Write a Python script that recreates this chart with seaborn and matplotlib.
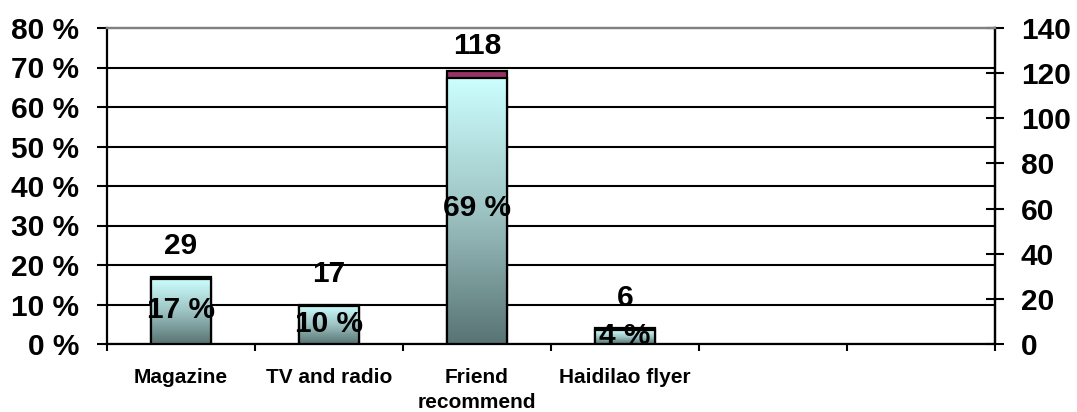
import numpy as np
import pandas as pd
import matplotlib
matplotlib.use("Agg")
import matplotlib.pyplot as plt
from matplotlib.colors import LinearSegmentedColormap
import seaborn as sns

# Survey: how customers heard about the restaurant
categories = ["Magazine", "TV and radio", "Friend\nrecommend", "Haidilao flyer"]
percent = [17, 10, 69, 4]          # share of respondents (left axis)
counts = [29, 17, 118, 6]          # number of respondents (right axis)
n_slots = 6                         # category slots on the x axis
pct_ticks = list(range(0, 81, 10))
count_ticks = list(range(0, 141, 20))

sns.set_theme(style="white")
plt.rcParams["font.family"] = ["Liberation Sans", "DejaVu Sans"]
plt.rcParams["font.weight"] = "bold"
plt.rcParams["text.color"] = "black"
plt.rcParams["xtick.color"] = "black"
plt.rcParams["ytick.color"] = "black"
plt.rcParams["xtick.labelcolor"] = "black"
plt.rcParams["ytick.labelcolor"] = "black"

df = pd.DataFrame({"source": categories, "percent": percent, "count": counts})

fig = plt.figure(figsize=(10.77, 4.12), dpi=100)
ax = fig.add_axes([107 / 1077, 1 - 344 / 412, (995 - 107) / 1077, (344 - 28) / 412])
ax2 = ax.twinx()

# Percentage bars (left axis), mostly hidden behind the count bars
sns.barplot(data=df, x="source", y="percent", order=categories, ax=ax,
            color="#993366", saturation=1, width=0.4, errorbar=None,
            edgecolor="black", linewidth=1.6, zorder=2)
# Count bars (right axis) with a vertical gradient fill
sns.barplot(data=df, x="source", y="count", order=categories, ax=ax2,
            color="#ccffff", saturation=1, width=0.4, errorbar=None,
            edgecolor="black", linewidth=1.6, zorder=3)

cmap = LinearSegmentedColormap.from_list(
    "teal_fade", ["#587373", "#9ec3c3", "#ccffff"])
grad = np.linspace(0, 1, 256).reshape(-1, 1)
for p in ax2.patches:
    x0, y0 = p.get_x(), p.get_y()
    w, h = p.get_width(), p.get_height()
    im = ax2.imshow(grad, extent=[x0, x0 + w, y0, y0 + h], origin="lower",
                    aspect="auto", cmap=cmap, zorder=2.9, interpolation="bilinear")
    im.set_clip_path(p)
    p.set_facecolor("none")

# Axis ranges
ax.set_xlim(-0.5, n_slots - 0.5)
ax.set_ylim(0, 80)
ax2.set_ylim(0, 140)

# Left axis
ax.set_yticks(pct_ticks)
ax.set_yticklabels([f"{v} %" for v in pct_ticks])
ax.tick_params(axis="y", which="major", direction="out", length=7, width=1.5,
               pad=13, labelsize=21.5, color="black", labelcolor="black", left=True)
ax.set_ylabel("")

# Right axis
ax2.set_yticks(count_ticks)
ax2.set_yticklabels([str(v) for v in count_ticks])
ax2.tick_params(axis="y", which="major", direction="inout", length=13, width=1.5,
                pad=12, labelsize=21.5, color="black", labelcolor="black", right=True)
ax2.set_ylabel("")

# X axis: tick marks between slots, labels centred under each category
ax.set_xticks(np.arange(n_slots + 1) - 0.5)
ax.set_xticklabels([""] * (n_slots + 1))
ax.set_xticks(range(len(categories)), minor=True)
ax.set_xticklabels(categories, minor=True, fontsize=15, fontweight="bold",
                   linespacing=1.45, color="black")
ax.tick_params(axis="x", which="major", direction="out", length=5, width=1.5,
               color="black", bottom=True)
ax.tick_params(axis="x", which="minor", length=0, pad=17)
ax.set_xlabel("")

# Gridlines on the percentage scale
ax.set_axisbelow(True)
ax.yaxis.grid(True, color="black", linewidth=1.5)
ax.xaxis.grid(False)
ax.get_ygridlines()[-1].set_visible(False)

for a in (ax, ax2):
    for side in ("left", "right", "bottom"):
        a.spines[side].set_color("black")
        a.spines[side].set_linewidth(1.6)
    a.spines["top"].set_color("#808080")
    a.spines["top"].set_linewidth(1.6)
ax2.spines["left"].set_visible(False)
ax2.spines["bottom"].set_visible(False)

# Count labels above the bars
ax2.bar_label(ax2.containers[0], labels=[str(c) for c in counts], padding=13,
              fontsize=21.5, fontweight="bold", color="black", zorder=5)

# Percentage labels centred on the percentage bars, drawn above everything
for p, v in zip(ax.patches, percent):
    ax2.text(p.get_x() + p.get_width() / 2, p.get_height() / 2, f"{v} %",
             transform=ax.transData, ha="center", va="center",
             fontsize=21.5, fontweight="bold", color="black", zorder=6)

fig.savefig("out.png", dpi=100)
